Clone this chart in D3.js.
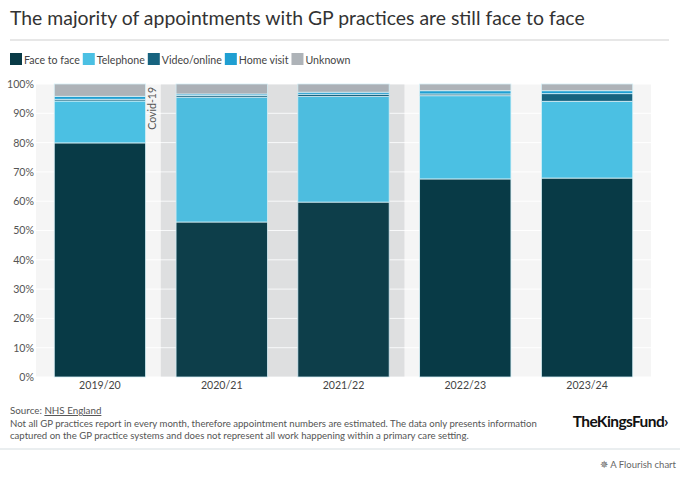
<!DOCTYPE html>
<html>
<head>
<meta charset="utf-8">
<script src="https://cdn.jsdelivr.net/npm/d3@7"></script>
<style>
  body { margin: 0; background: #fff; }
  svg text { font-family: "Lato", "Open Sans", sans-serif; }
</style>
</head>
<body>
<div id="chart"></div>
<script>
// =====================
// DATA
// =====================
const years = ["2019/20", "2020/21", "2021/22", "2022/23", "2023/24"];
const seriesNames = ["Face to face", "Telephone", "Video/online", "Home visit", "Unknown"];
const faceToFace = [79.9, 52.9, 59.7, 67.6, 67.9];
const telephone = [14.3, 42.6, 36.0, 28.4, 26.2];
const videoOnline = [0.6, 0.6, 0.8, 0.6, 2.6];
const homeVisit = [1.0, 0.5, 0.7, 1.1, 1.0];
const unknown = [4.2, 3.4, 2.8, 2.3, 2.3];
const yTicks = [0, 10, 20, 30, 40, 50, 60, 70, 80, 90, 100];
const covidYears = ["2020/21", "2021/22"];

const colors = ["#083a46", "#4bc0e3", "#17637f", "#1f9fd2", "#aeb3b8"];

const rows = years.map((y, i) => ({
  year: y,
  "Face to face": faceToFace[i],
  "Telephone": telephone[i],
  "Video/online": videoOnline[i],
  "Home visit": homeVisit[i],
  "Unknown": unknown[i]
}));

// =====================
// SVG SETUP
// =====================
const W = 680, H = 478;
const svg = d3.select("#chart").append("svg")
  .attr("width", W).attr("height", H);

// title
svg.append("text")
  .attr("x", 10).attr("y", 25)
  .style("font-size", "19.4px")
  .style("fill", "#333")
  .text("The majority of appointments with GP practices are still face to face");

svg.append("line")
  .attr("x1", 10).attr("x2", 669)
  .attr("y1", 40).attr("y2", 40)
  .attr("stroke", "#cfcfcf");

// =====================
// LEGEND
// =====================
const legend = svg.append("g").attr("transform", "translate(10,53)");
let lx = 0;
seriesNames.forEach((name, i) => {
  const g = legend.append("g").attr("transform", `translate(${lx},0)`);
  g.append("rect").attr("width", 12).attr("height", 12).attr("fill", colors[i]);
  const t = g.append("text")
    .attr("x", 14).attr("y", 10.5)
    .style("font-size", "10.6px")
    .style("fill", "#444")
    .text(name);
  lx += 14 + t.node().getComputedTextLength() + 3;
});

// =====================
// SCALES
// =====================
const plot = {left: 36, right: 651, top: 84, bottom: 377};

const x = d3.scaleBand()
  .domain(years)
  .range([plot.left, plot.right])
  .paddingInner(0.25)
  .paddingOuter(0.15);

const y = d3.scaleLinear()
  .domain([0, 100])
  .range([plot.bottom, plot.top]);

const color = d3.scaleOrdinal().domain(seriesNames).range(colors);

// background
svg.append("rect")
  .attr("x", plot.left).attr("y", plot.top)
  .attr("width", plot.right - plot.left)
  .attr("height", plot.bottom - plot.top)
  .attr("fill", "#f5f5f5");

// covid band
const gap = x.step() * x.paddingInner();
const bandX0 = x(covidYears[0]) - gap / 2;
const bandX1 = x(covidYears[covidYears.length - 1]) + x.bandwidth() + gap / 2;
svg.append("rect")
  .attr("x", bandX0).attr("y", plot.top)
  .attr("width", bandX1 - bandX0)
  .attr("height", plot.bottom - plot.top)
  .attr("fill", "#e4e4e4");

// gridlines
svg.append("g")
  .selectAll("line")
  .data(yTicks)
  .join("line")
  .attr("x1", plot.left).attr("x2", plot.right)
  .attr("y1", d => y(d)).attr("y2", d => y(d))
  .attr("stroke", "#fff")
  .attr("stroke-width", 1);

// =====================
// BARS
// =====================
const stacked = d3.stack().keys(seriesNames)(rows);

svg.append("g")
  .selectAll("g")
  .data(stacked)
  .join("g")
  .attr("fill", d => color(d.key))
  .selectAll("rect")
  .data(d => d)
  .join("rect")
  .attr("x", d => x(d.data.year))
  .attr("width", x.bandwidth())
  .attr("y", d => y(d[1]))
  .attr("height", d => y(d[0]) - y(d[1]))
  .attr("stroke", "#d8f1f8")
  .attr("stroke-width", 0.8);

// covid overlay tint on top of bars
svg.append("rect")
  .attr("x", bandX0).attr("y", plot.top)
  .attr("width", bandX1 - bandX0)
  .attr("height", plot.bottom - plot.top)
  .attr("fill", "#7f9099")
  .attr("opacity", 0.05);

svg.append("text")
  .attr("transform", `translate(${bandX0 - 5},${plot.top + 3}) rotate(-90)`)
  .attr("text-anchor", "end")
  .style("font-size", "10.5px")
  .style("fill", "#555")
  .text("Covid-19");

// =====================
// AXES
// =====================
const yAxis = svg.append("g")
  .attr("transform", `translate(${plot.left - 2},0)`)
  .call(d3.axisLeft(y).tickValues(yTicks).tickFormat(d => d + "%").tickSize(0).tickPadding(0));
yAxis.select(".domain").remove();
yAxis.selectAll("text")
  .style("font-size", "10.6px")
  .style("fill", "#555")
  .style("font-family", "Lato, sans-serif");

const xAxis = svg.append("g")
  .attr("transform", `translate(0,${plot.bottom})`)
  .call(d3.axisBottom(x).tickSize(0).tickPadding(4));
xAxis.select(".domain").remove();
xAxis.selectAll("text")
  .style("font-size", "10.6px")
  .style("fill", "#444")
  .style("font-family", "Lato, sans-serif");

// =====================
// FOOTER
// =====================
const src = svg.append("text")
  .attr("x", 10).attr("y", 414)
  .style("font-size", "9.8px")
  .style("fill", "#555");
src.append("tspan").text("Source: ");
src.append("tspan").style("text-decoration", "underline").text("NHS England");

svg.append("text")
  .attr("x", 10).attr("y", 427)
  .style("font-size", "9.6px")
  .style("fill", "#555")
  .text("Not all GP practices report in every month, therefore appointment numbers are estimated. The data only presents information");
svg.append("text")
  .attr("x", 10).attr("y", 439)
  .style("font-size", "9.6px")
  .style("fill", "#555")
  .text("captured on the GP practice systems and does not represent all work happening within a primary care setting.");

svg.append("text")
  .attr("x", 668).attr("y", 427)
  .attr("text-anchor", "end")
  .style("font-size", "15.5px")
  .style("font-weight", "bold")
  .style("letter-spacing", "-0.6px")
  .style("fill", "#111")
  .text("TheKingsFund\u203A");

svg.append("line")
  .attr("x1", 0).attr("x2", W)
  .attr("y1", 449).attr("y2", 449)
  .attr("stroke", "#d5dde0");

svg.append("text")
  .attr("x", 676).attr("y", 468)
  .attr("text-anchor", "end")
  .style("font-size", "9.5px")
  .style("fill", "#666")
  .text("\u2735 A Flourish chart");
</script>
</body>
</html>
